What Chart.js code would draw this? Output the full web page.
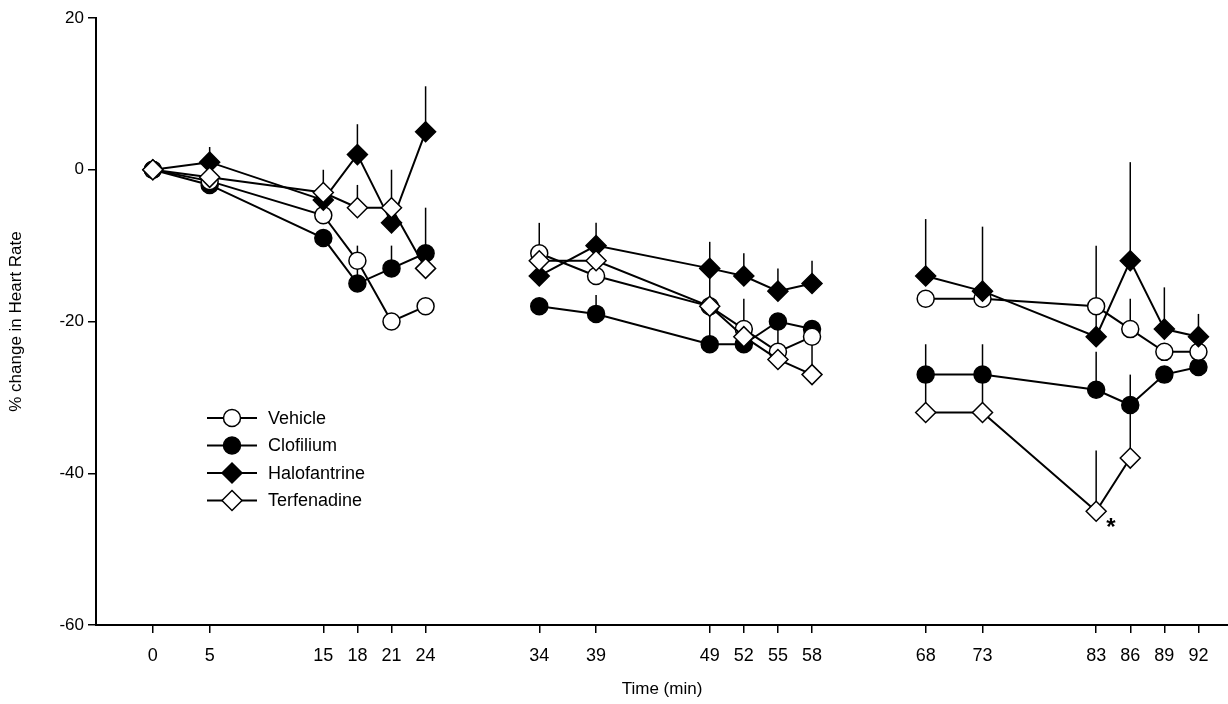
<!DOCTYPE html>
<html lang="en">
<head>
<meta charset="UTF-8">
<title>% change in Heart Rate</title>
<script src="https://cdn.jsdelivr.net/npm/chart.js@4.4.3/dist/chart.umd.min.js"></script>
<style>
  html, body { margin: 0; padding: 0; background: #fff; overflow: hidden; }
  #chart { display: block; }
</style>
</head>
<body>
<canvas id="chart" width="1228" height="704"></canvas>
<script>
// sample times (min) and the recording block each belongs to
const times  = [0, 5, 15, 18, 21, 24, 34, 39, 49, 52, 55, 58, 68, 73, 83, 86, 89, 92];
const blocks = [0, 0, 0, 0, 0, 0, 1, 1, 1, 1, 1, 1, 2, 2, 2, 2, 2, 2];

// % change in heart rate
const vehicle      = [0, -1.5, -6, -12, -20, -18, -11, -14, -18, -21, -24, -22, -17, -17, -18, -21, -24, -24];
const clofilium    = [0, -2, -9, -15, -13, -11, -18, -19, -23, -23, -20, -21, -27, -27, -29, -31, -27, -26];
const halofantrine = [0, 1, -4, 2, -7, 5, -14, -10, -13, -14, -16, -15, -14, -16, -22, -12, -21, -22];
const terfenadine  = [0, -1, -3, -5, -5, -13, -12, -12, -18, -22, -25, -27, -32, -32, -45, -38, null, null];

// upward error bars (SEM)
const vehicleErr      = [0, 0, 0, 0, 0, 0, 4, 0, 0, 4, 4, 0, 0, 0, 0, 4, 0, 0];
const clofiliumErr    = [0, 0, 0, 5, 3, 6, 0, 2.5, 5, 0, 0, 0, 4, 4, 5, 4, 0, 0];
const halofantrineErr = [0, 2, 0, 4, 0, 6, 0, 3, 3.5, 3, 3, 3, 7.5, 8.5, 12, 13, 5.5, 3];
const terfenadineErr  = [0, 0, 3, 3, 5, 0, 0, 0, 5, 0, 0, 6, 5, 5, 8, 7, 0, 0];

const seriesNames = ['Vehicle', 'Clofilium', 'Halofantrine', 'Terfenadine'];

function pts(vals) {
  return times.map((t, i) => ({ x: t, y: vals[i] }));
}

function series(label, vals, errs, style, fill, radius, order) {
  return {
    label: label,
    data: pts(vals),
    errs: errs,
    borderColor: '#000',
    borderWidth: 2,
    pointStyle: style,
    pointRadius: radius,
    pointBackgroundColor: fill,
    pointBorderColor: '#000',
    pointBorderWidth: 1.5,
    spanGaps: false,
    order: order,
    // no line between the separate recording blocks
    segment: {
      borderColor: c => blocks[c.p0DataIndex] !== blocks[c.p1DataIndex] ? 'rgba(0,0,0,0)' : '#000'
    }
  };
}

// error bars drawn under the markers
const errorBars = {
  id: 'errorBars',
  beforeDatasetsDraw(chart) {
    const ctx = chart.ctx;
    const xs = chart.scales.x, ys = chart.scales.y;
    ctx.save();
    ctx.strokeStyle = '#000';
    ctx.lineWidth = 1.5;
    chart.data.datasets.forEach(ds => {
      ds.data.forEach((p, i) => {
        const e = ds.errs[i];
        if (p.y === null || !e) return;
        const px = xs.getPixelForValue(p.x);
        ctx.beginPath();
        ctx.moveTo(px, ys.getPixelForValue(p.y));
        ctx.lineTo(px, ys.getPixelForValue(p.y + e));
        ctx.stroke();
      });
    });
    ctx.restore();
  }
};

function marker(ctx, style, fill, x, y, r) {
  ctx.beginPath();
  if (style === 'circle') {
    ctx.arc(x, y, r, 0, Math.PI * 2);
  } else {
    ctx.moveTo(x, y - r);
    ctx.lineTo(x + r, y);
    ctx.lineTo(x, y + r);
    ctx.lineTo(x - r, y);
    ctx.closePath();
  }
  ctx.fillStyle = fill;
  ctx.fill();
  ctx.lineWidth = 1.5;
  ctx.strokeStyle = '#000';
  ctx.stroke();
}

// legend inside the plot + significance star
const extras = {
  id: 'extras',
  afterDraw(chart) {
    const ctx = chart.ctx;
    ctx.save();
    ctx.font = '18px "Liberation Sans", Arial, sans-serif';
    ctx.textBaseline = 'middle';
    chart.data.datasets.forEach((ds, i) => {
      const y = 418 + i * 27.5;
      ctx.strokeStyle = '#000';
      ctx.lineWidth = 2;
      ctx.beginPath();
      ctx.moveTo(207, y);
      ctx.lineTo(257, y);
      ctx.stroke();
      marker(ctx, ds.pointStyle, ds.pointBackgroundColor, 232, y, ds.pointRadius);
      ctx.fillStyle = '#000';
      ctx.fillText(ds.label, 268, y + 1);
    });
    const xs = chart.scales.x, ys = chart.scales.y;
    ctx.font = 'bold 24px "Liberation Sans", Arial, sans-serif';
    ctx.textAlign = 'center';
    ctx.fillText('*', xs.getPixelForValue(84.3), ys.getPixelForValue(-47.3));
    ctx.restore();
  }
};

const ctx = document.getElementById('chart');

new Chart(ctx, {
  type: 'line',
  data: {
    datasets: [
      series(seriesNames[0], vehicle, vehicleErr, 'circle', '#fff', 8.5, 2),
      series(seriesNames[1], clofilium, clofiliumErr, 'circle', '#000', 8.5, 3),
      series(seriesNames[2], halofantrine, halofantrineErr, 'rectRot', '#000', 10, 1),
      series(seriesNames[3], terfenadine, terfenadineErr, 'rectRot', '#fff', 10, 0)
    ]
  },
  options: {
    responsive: false,
    devicePixelRatio: 1,
    animation: false,
    layout: { autoPadding: false, padding: { top: 18, right: 0, left: 0, bottom: 0 } },
    plugins: {
      legend: { display: false },
      tooltip: { enabled: false }
    },
    scales: {
      x: {
        type: 'linear',
        min: -5,
        max: 94.6,
        afterFit: s => { s.height = 79; },
        afterBuildTicks: s => { s.ticks = times.map(v => ({ value: v })); },
        border: { color: '#000', width: 2 },
        grid: { drawOnChartArea: false, color: '#000', tickLength: 8, lineWidth: 1.5 },
        ticks: {
          color: '#000',
          autoSkip: false,
          maxRotation: 0,
          padding: 12,
          font: { family: '"Liberation Sans Narrow", "Arial Narrow", sans-serif', size: 18 }
        },
        title: {
          display: true,
          text: 'Time (min)',
          color: '#000',
          padding: { top: 4 },
          font: { family: '"Liberation Sans", Arial, sans-serif', size: 17 }
        }
      },
      y: {
        min: -60,
        max: 20,
        afterFit: s => { s.width = 96; },
        border: { color: '#000', width: 2 },
        grid: { drawOnChartArea: false, color: '#000', tickLength: 8, lineWidth: 1.5 },
        ticks: {
          stepSize: 20,
          color: '#000',
          padding: 4,
          font: { family: '"Liberation Sans", Arial, sans-serif', size: 17 }
        },
        title: {
          display: true,
          text: '% change in Heart Rate',
          color: '#000',
          padding: { top: 6, bottom: 0 },
          font: { family: '"Liberation Sans", Arial, sans-serif', size: 17 }
        }
      }
    }
  },
  plugins: [errorBars, extras]
});
</script>
</body>
</html>
